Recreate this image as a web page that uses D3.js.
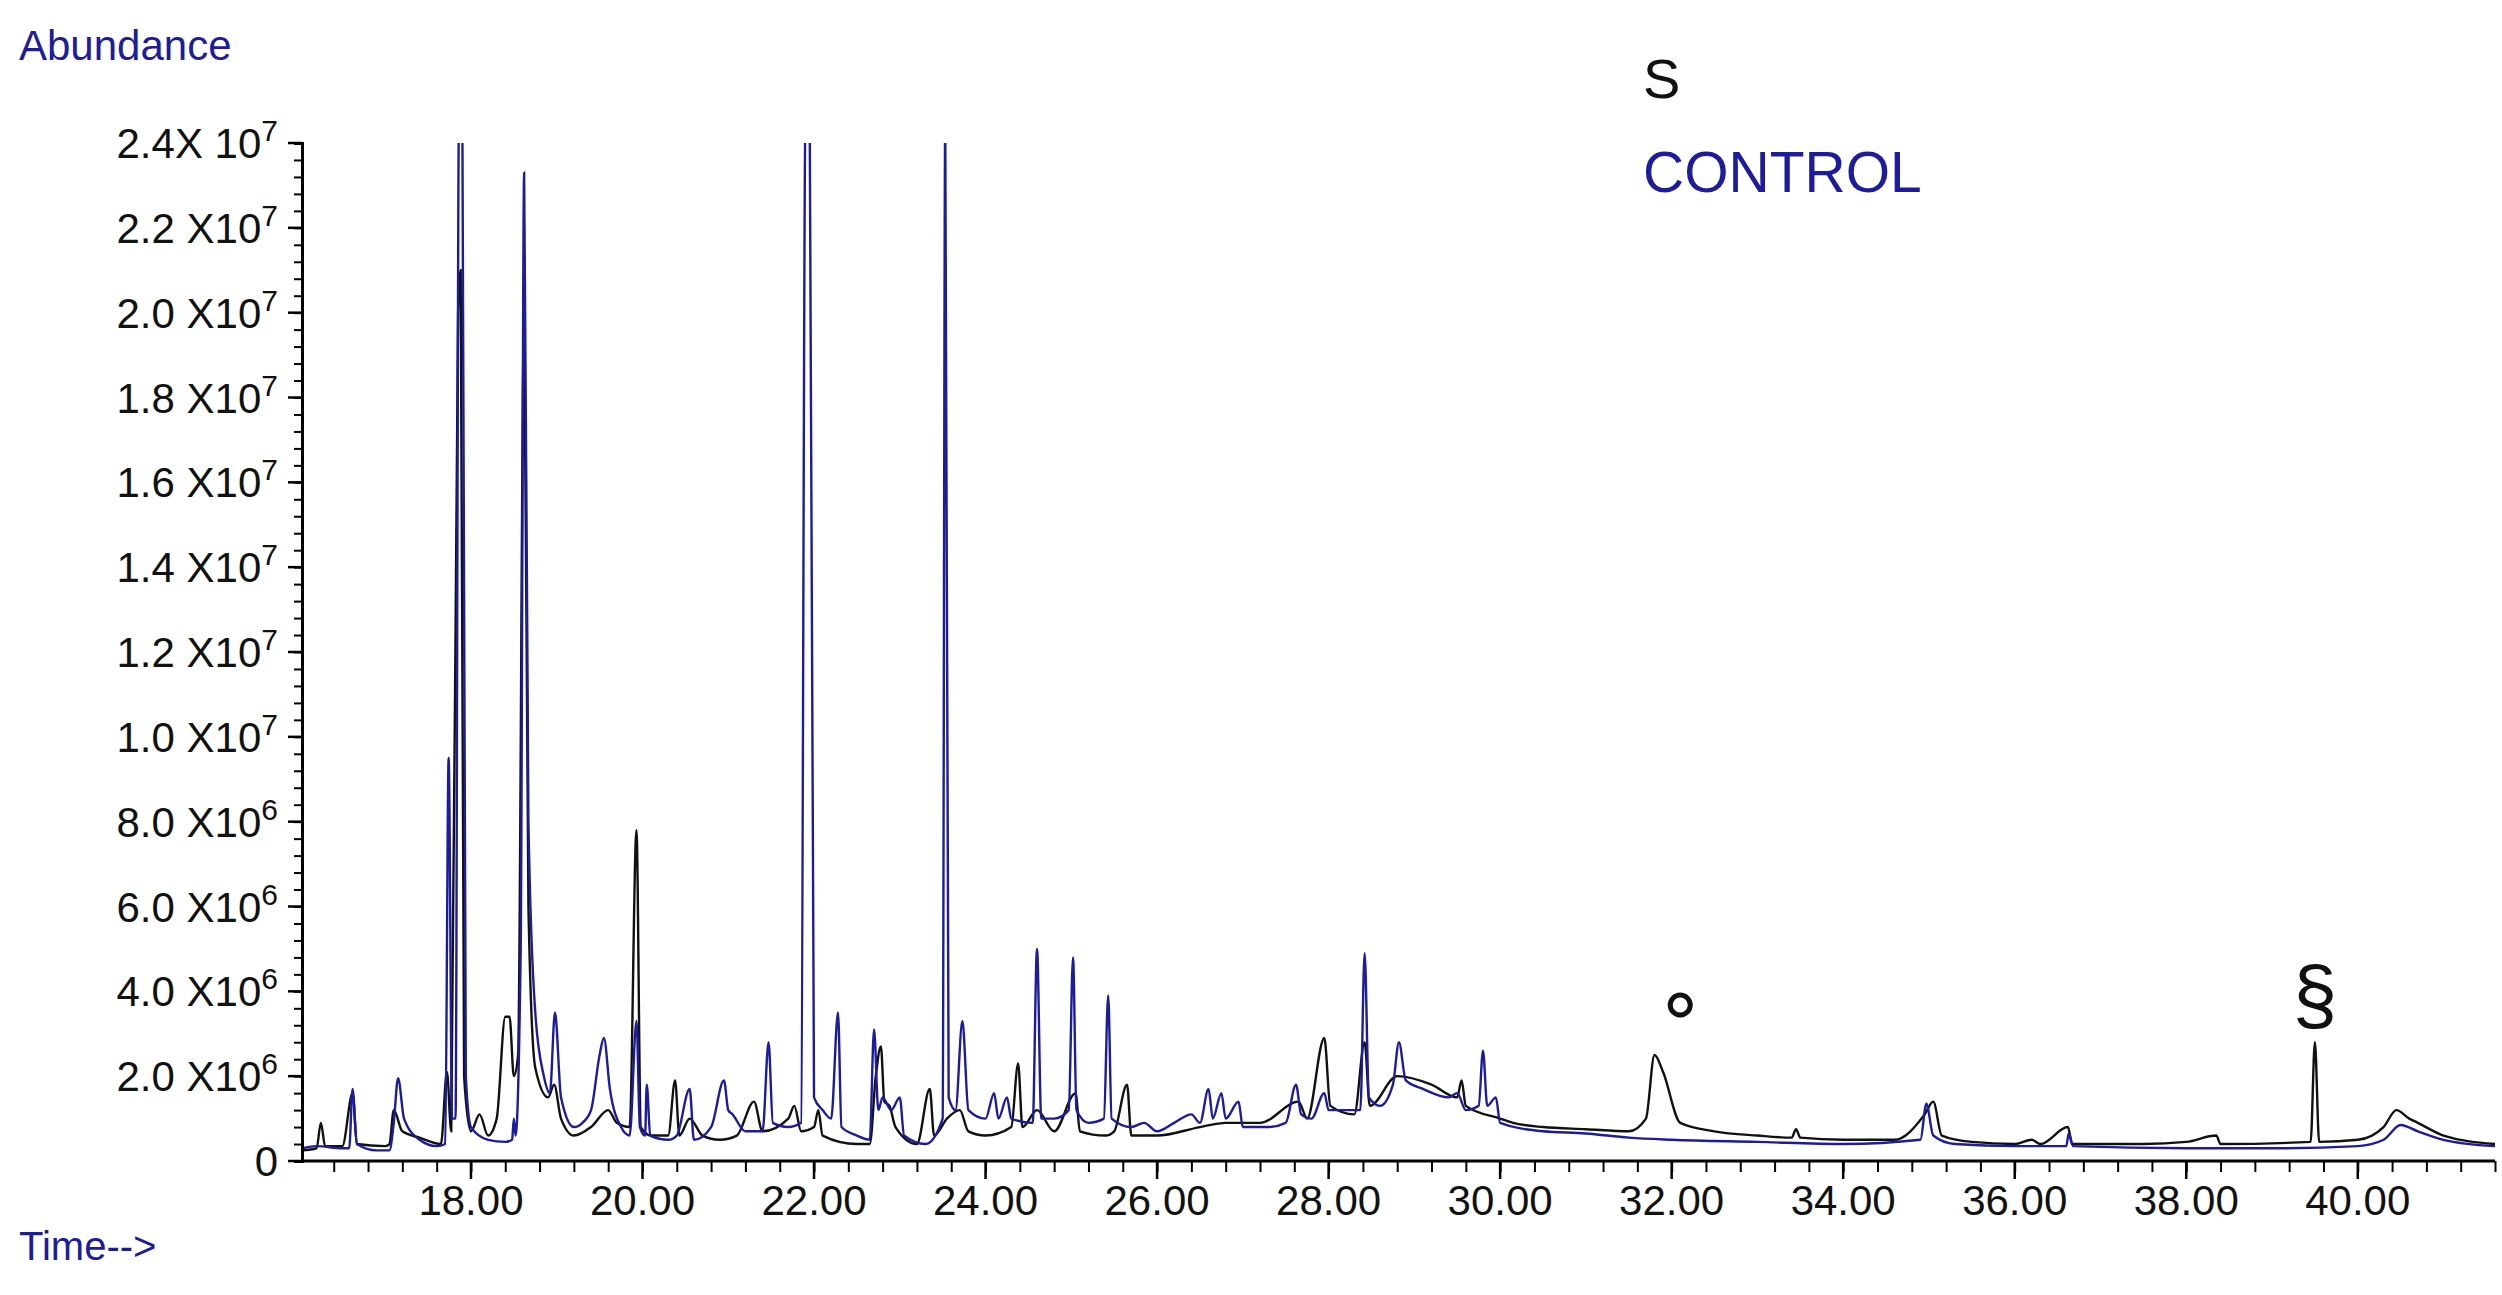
<!DOCTYPE html>
<html><head><meta charset="utf-8">
<script src="https://d3js.org/d3.v7.min.js"></script>
<style>body{margin:0;background:#fff}text{font-family:"Liberation Sans",Arial,sans-serif}</style>
</head><body><svg id="chart"></svg>
<script>
// values in units of 1e6 abundance, time in minutes
const controlTrace = [[16.03,0.3],[16.2,0.35],[16.5,0.3],[16.58,0.3],[16.62,1.7],[16.67,0.4],[16.9,0.25],[17.05,0.25],[17.1,0.9],[17.15,1.95],[17.22,1.0],[17.4,0.5],[17.6,0.35],[17.7,0.4],[17.74,9.5],[17.78,1.0],[17.82,1.0],[17.86,24.5],[17.9,24.5],[17.94,2],[18.0,0.8],[18.2,0.5],[18.4,0.45],[18.48,0.5],[18.5,1.0],[18.52,0.6],[18.58,5],[18.62,23.3],[18.67,8],[18.75,3.5],[18.85,2],[18.92,1.6],[18.98,3.5],[19.05,1.5],[19.2,0.8],[19.3,0.9],[19.4,1.2],[19.5,2.5],[19.55,2.9],[19.62,1.7],[19.75,0.8],[19.85,0.6],[19.93,3.3],[19.97,0.8],[20.03,0.6],[20.05,1.8],[20.09,0.6],[20.3,0.5],[20.4,0.6],[20.55,1.7],[20.6,0.5],[20.8,0.8],[20.95,1.9],[21.0,1.2],[21.05,1.1],[21.2,0.7],[21.4,0.7],[21.47,2.8],[21.52,0.9],[21.7,0.8],[21.85,0.9],[21.9,24.5],[21.95,24.5],[22.0,1.5],[22.1,1.2],[22.2,1.0],[22.28,3.5],[22.32,0.8],[22.5,0.6],[22.65,0.5],[22.7,3.1],[22.75,1.2],[22.8,1.5],[22.9,1.2],[23.0,1.5],[23.05,0.6],[23.3,0.4],[23.5,1.0],[23.53,24.5],[23.57,1.5],[23.65,1.2],[23.73,3.3],[23.8,1.2],[24.0,1.0],[24.1,1.6],[24.15,1.0],[24.25,1.5],[24.3,1.0],[24.55,0.9],[24.6,5.0],[24.65,1.0],[24.8,1.0],[24.97,1.2],[25.02,4.8],[25.06,1.2],[25.2,0.9],[25.38,1.0],[25.43,3.9],[25.47,1.0],[25.7,0.8],[25.85,0.9],[26.0,0.7],[26.2,0.9],[26.4,1.1],[26.5,0.9],[26.6,1.7],[26.65,1.0],[26.75,1.6],[26.8,1.0],[26.95,1.4],[27.0,0.8],[27.3,0.8],[27.5,0.9],[27.62,1.8],[27.68,1.1],[27.8,1.0],[27.95,1.6],[28.0,1.2],[28.37,1.2],[28.42,4.9],[28.47,1.5],[28.6,1.3],[28.75,1.8],[28.82,2.8],[28.9,1.9],[29.1,1.7],[29.4,1.5],[29.5,1.6],[29.6,1.2],[29.75,1.3],[29.8,2.6],[29.85,1.3],[29.95,1.5],[30.0,0.9],[30.5,0.7],[31,0.65],[31.5,0.55],[32,0.5],[33,0.45],[34,0.4],[34.9,0.5],[34.97,1.35],[35.05,0.6],[35.3,0.4],[36,0.35],[36.6,0.35],[36.63,0.65],[36.68,0.35],[38,0.3],[39,0.3],[40,0.35],[40.3,0.5],[40.5,0.85],[40.7,0.7],[41,0.5],[41.6,0.35]];
const sampleTrace = [[16.03,0.25],[16.2,0.3],[16.25,0.9],[16.3,0.35],[16.5,0.35],[16.62,1.6],[16.67,0.4],[17.0,0.35],[17.05,0.4],[17.1,1.2],[17.2,0.7],[17.4,0.55],[17.65,0.4],[17.72,2.1],[17.77,0.7],[17.85,20],[17.88,21],[17.92,2],[18.0,0.7],[18.1,1.1],[18.2,0.6],[18.3,1.0],[18.4,3.4],[18.45,3.4],[18.5,2.0],[18.55,2.5],[18.62,20],[18.67,6],[18.75,2.2],[18.9,1.5],[18.97,1.8],[19.05,1.0],[19.2,0.6],[19.4,0.8],[19.6,1.2],[19.7,0.9],[19.85,0.8],[19.93,7.8],[19.98,0.8],[20.1,0.6],[20.3,0.6],[20.38,1.9],[20.43,0.6],[20.55,1.0],[20.7,0.6],[20.9,0.5],[21.1,0.6],[21.3,1.4],[21.4,0.7],[21.7,1.0],[21.77,1.3],[21.85,0.7],[22.0,0.8],[22.05,1.2],[22.1,0.6],[22.5,0.4],[22.65,0.4],[22.72,2.0],[22.78,2.7],[22.82,1.4],[22.88,1.3],[22.95,0.8],[23.2,0.4],[23.35,1.7],[23.4,0.6],[23.55,1.0],[23.7,1.2],[23.8,0.7],[24.0,0.6],[24.3,0.8],[24.38,2.3],[24.43,0.8],[24.6,1.2],[24.8,0.7],[25.05,1.6],[25.1,0.7],[25.4,0.6],[25.5,0.7],[25.65,1.8],[25.7,0.6],[26,0.6],[26.5,0.8],[26.8,0.9],[27.2,0.9],[27.65,1.4],[27.75,1.0],[27.95,2.9],[28.02,1.3],[28.3,1.1],[28.42,2.8],[28.48,1.3],[28.8,2.0],[29.2,1.8],[29.5,1.5],[29.55,1.9],[29.6,1.3],[30.0,1.0],[30.15,0.9],[30.5,0.8],[31,0.75],[31.5,0.7],[31.7,1.0],[31.8,2.5],[31.9,2.1],[32.1,0.9],[32.5,0.7],[33,0.6],[33.4,0.55],[33.45,0.75],[33.5,0.55],[34,0.5],[34.6,0.5],[34.95,1.1],[35.05,1.4],[35.15,0.6],[35.5,0.45],[36,0.4],[36.2,0.5],[36.3,0.4],[36.62,0.8],[36.67,0.4],[37.5,0.4],[38,0.45],[38.35,0.6],[38.4,0.4],[39.45,0.45],[39.5,2.8],[39.55,0.45],[40,0.5],[40.3,0.8],[40.45,1.2],[40.6,1.0],[40.7,0.9],[41,0.6],[41.6,0.4]];
const xTickValues = [18, 20, 22, 24, 26, 28, 30, 32, 34, 36, 38, 40];
const yTickValues = [0, 2, 4, 6, 8, 10, 12, 14, 16, 18, 20, 22, 24];
const yTickMantissa = ["0", "2.0", "4.0", "6.0", "8.0", "1.0", "1.2", "1.4", "1.6", "1.8", "2.0", "2.2", "2.4"];
const yTickExponent = [null, 6, 6, 6, 6, 7, 7, 7, 7, 7, 7, 7, 7];

const W = 2502, H = 1295;
const m = {left: 302, right: 2495, top: 143, bottom: 1161};
const blue = "#1c1c9c";
const svg = d3.select("#chart").attr("width", W).attr("height", H);

const x = d3.scaleLinear().domain([16.03, 41.6]).range([m.left, m.right]);
const y = d3.scaleLinear().domain([0, 24]).range([m.bottom, m.top]);

svg.append("clipPath").attr("id", "clip").append("rect")
  .attr("x", m.left).attr("y", m.top).attr("width", m.right - m.left).attr("height", m.bottom - m.top);

const line = d3.line().x(d => x(d[0])).y(d => y(d[1])).curve(d3.curveMonotoneX);
const plot = svg.append("g").attr("clip-path", "url(#clip)");
plot.append("path").datum(sampleTrace).attr("d", line)
  .attr("fill", "none").attr("stroke", "#111").attr("stroke-width", 2.4);
plot.append("path").datum(controlTrace).attr("d", line)
  .attr("fill", "none").attr("stroke", blue).attr("stroke-width", 2.4);

// x axis
const xAxis = svg.append("g").attr("transform", `translate(0,${m.bottom})`);
xAxis.call(d3.axisBottom(x).tickValues(d3.range(16.4, 41.6, 0.4)).tickSize(11).tickFormat(""));
xAxis.call(g => g.select(".domain").remove());
xAxis.selectAll(".tick line").attr("stroke-width", 2);
xAxis.append("line").attr("x1", m.left).attr("x2", m.right).attr("stroke", "#000").attr("stroke-width", 3);
xAxis.selectAll(".major").data(xTickValues).enter().append("line")
  .attr("x1", d => x(d)).attr("x2", d => x(d)).attr("y2", 18).attr("stroke", "#000").attr("stroke-width", 2.5);
xAxis.selectAll(".lbl").data(xTickValues).enter().append("text")
  .attr("x", d => x(d)).attr("y", 54).attr("text-anchor", "middle").attr("font-size", 42).attr("fill", "#111")
  .text(d => d.toFixed(2));

// y axis
const yAxis = svg.append("g").attr("transform", `translate(${m.left},0)`);
yAxis.call(d3.axisLeft(y).tickValues(d3.range(0, 24.01, 0.4)).tickSize(8).tickFormat(""));
yAxis.select(".domain").attr("stroke-width", 3);
yAxis.selectAll(".tick line").attr("stroke-width", 2);
yAxis.selectAll(".major").data(yTickValues).enter().append("line")
  .attr("x2", -14).attr("y1", d => y(d)).attr("y2", d => y(d)).attr("stroke", "#000").attr("stroke-width", 2.5);
const yl = yAxis.selectAll(".lbl").data(yTickValues).enter().append("text")
  .attr("x", -24).attr("y", d => y(d) + 15).attr("text-anchor", "end").attr("font-size", 42).attr("fill", "#111");
yl.each(function(d, i) {
  const t = d3.select(this);
  if (yTickExponent[i] === null) { t.text(yTickMantissa[i]); return; }
  t.append("tspan").text(i === 12 ? yTickMantissa[i] + "X 10" : yTickMantissa[i] + " X10");
  t.append("tspan").attr("dy", -17).attr("font-size", 30).text(yTickExponent[i]);
});

// titles and legend
svg.append("text").attr("x", 19).attr("y", 60).attr("font-size", 42).attr("fill", blue).text("Abundance");
svg.append("text").attr("x", 19).attr("y", 1260).attr("font-size", 40).attr("fill", blue).text("Time-->");
svg.append("text").attr("x", 1643).attr("y", 98).attr("font-size", 56).attr("fill", "#111").text("S");
svg.append("text").attr("x", 1643).attr("y", 192).attr("font-size", 57).attr("fill", blue).text("CONTROL");

// annotations
svg.append("circle").attr("cx", x(32.1)).attr("cy", 1005).attr("r", 10)
  .attr("fill", "none").attr("stroke", "#111").attr("stroke-width", 5);
svg.append("text").attr("x", x(39.5)).attr("y", 1022).attr("text-anchor", "middle")
  .attr("font-size", 80).attr("fill", "#111").text("§");
</script></body></html>
